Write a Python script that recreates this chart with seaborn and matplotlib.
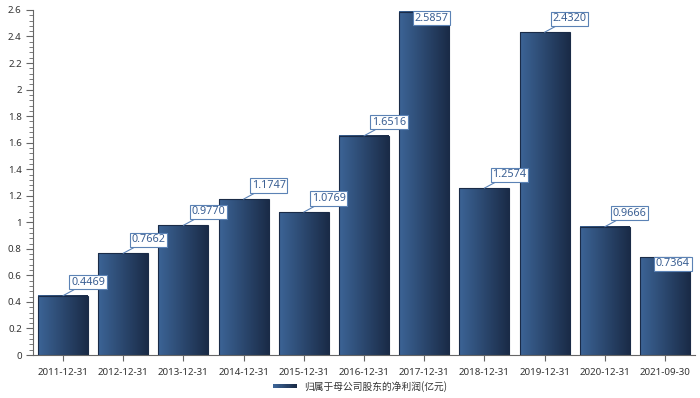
import matplotlib
matplotlib.use("Agg")
import matplotlib.pyplot as plt
import seaborn as sns
import pandas as pd
import numpy as np
from matplotlib.ticker import MultipleLocator, FuncFormatter
from matplotlib.colors import LinearSegmentedColormap
from matplotlib.patches import Rectangle
from matplotlib.legend_handler import HandlerBase

dates = ["2011-12-31", "2012-12-31", "2013-12-31", "2014-12-31", "2015-12-31",
         "2016-12-31", "2017-12-31", "2018-12-31", "2019-12-31", "2020-12-31",
         "2021-09-30"]
profit = [0.4469, 0.7662, 0.9770, 1.1747, 1.0769, 1.6516, 2.5857, 1.2574,
          2.4320, 0.9666, 0.7364]
series_name = "归属于母公司股东的净利润(亿元)"

df = pd.DataFrame({"date": dates, "profit": profit})

sns.set_style("white")
plt.rcParams["font.family"] = ["Noto Sans", "Noto Sans CJK SC", "DejaVu Sans"]

left_c = "#3c6496"
right_c = "#1a2b47"
cmap = LinearSegmentedColormap.from_list("bar_grad", [left_c, right_c])
axis_c = "#666666"
label_c = "#3a5f93"
fs = 7

fig = plt.figure(figsize=(7, 3.98), dpi=100)
ax = fig.add_axes([0.047, 0.108, 0.946, 0.867])

sns.barplot(data=df, x="date", y="profit", ax=ax, width=0.83,
            color=left_c, edgecolor=right_c, linewidth=0.8)

xlim = (-0.5, len(dates) - 0.5)
ylim = (0, 2.6)

# gradient fill for every bar
grad = np.linspace(0, 1, 256).reshape(1, -1)
for p in ax.patches:
    x0, w, h = p.get_x(), p.get_width(), p.get_height()
    p.set_facecolor("none")
    p.set_zorder(3)
    ax.imshow(grad, extent=[x0, x0 + w, 0, h], cmap=cmap, aspect="auto",
              zorder=2, interpolation="bilinear")

ax.set_xlim(xlim)
ax.set_ylim(ylim)

# value labels
box = dict(boxstyle="square,pad=0.15", fc="white", ec="#5b82b5", lw=0.8)
lfs = 7.8
for i, v in enumerate(profit):
    if v > ylim[1] - 0.1:
        ax.annotate(f"{v:.4f}", (i, v), xytext=(-10, -1), textcoords="offset pixels",
                    ha="left", va="top", fontsize=lfs, color=label_c, bbox=box,
                    zorder=5)
    elif i == len(profit) - 1:
        ax.annotate(f"{v:.4f}", (i, v), xytext=(-9, -1), textcoords="offset pixels",
                    ha="left", va="top", fontsize=lfs, color=label_c, bbox=box,
                    zorder=5)
    else:
        ax.annotate(f"{v:.4f}", (i, v), xytext=(8, 8), textcoords="offset pixels",
                    ha="left", va="bottom", fontsize=lfs, color=label_c, bbox=box,
                    zorder=5,
                    arrowprops=dict(arrowstyle="-", color="#5b82b5", lw=0.8,
                                    shrinkA=0, shrinkB=0))

# axes styling
for s in ["top", "right"]:
    ax.spines[s].set_visible(False)
for s in ["left", "bottom"]:
    ax.spines[s].set_color(axis_c)
    ax.spines[s].set_linewidth(0.8)

ax.yaxis.set_major_locator(MultipleLocator(0.2))
ax.yaxis.set_minor_locator(MultipleLocator(0.04))
ax.yaxis.set_major_formatter(FuncFormatter(lambda v, _: f"{round(v, 2):g}"))
ax.tick_params(axis="y", which="major", length=5, width=0.8, color=axis_c,
               labelsize=fs, labelcolor="#333333", pad=3, left=True)
ax.tick_params(axis="y", which="minor", length=3, width=0.6, color=axis_c, left=True)
ax.tick_params(axis="x", length=4, width=0.8, color=axis_c, labelsize=fs,
               labelcolor="#333333", pad=5, bottom=True)
ax.set_xlabel("")
ax.set_ylabel("")


class GradientHandler(HandlerBase):
    def create_artists(self, legend, orig_handle, xdescent, ydescent, width,
                       height, fontsize, trans):
        n = 20
        arts = []
        for k in range(n):
            r = Rectangle((-xdescent + width * k / n, -ydescent + height * 0.15),
                          width / n + 0.3, height * 0.7,
                          facecolor=cmap(k / (n - 1)), edgecolor="none",
                          transform=trans)
            arts.append(r)
        return arts


handle = Rectangle((0, 0), 1, 1)
leg = fig.legend([handle], [series_name], handler_map={Rectangle: GradientHandler()},
                 loc="center", bbox_to_anchor=(0.515, 0.03), frameon=False,
                 prop={"family": ["Noto Sans CJK SC", "DejaVu Sans"], "size": fs},
                 handlelength=2.4, handletextpad=0.8)
for t in leg.get_texts():
    t.set_color("#333333")

fig.savefig("out.png", dpi=100)
